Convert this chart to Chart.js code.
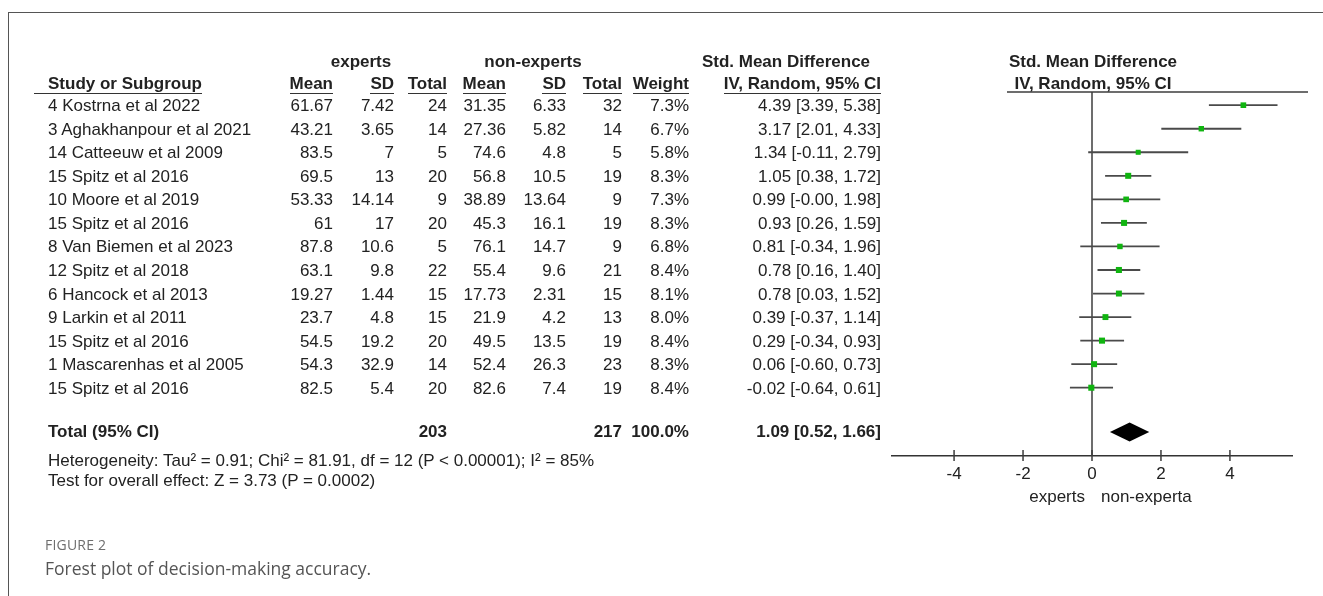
<!DOCTYPE html>
<html>
<head>
<meta charset="utf-8">
<title>Forest plot of decision-making accuracy</title>
<script src="https://cdn.jsdelivr.net/npm/chart.js@4.4.1/dist/chart.umd.min.js"></script>
<style>
  html, body { margin: 0; padding: 0; background: #fff; }
  #page { position: relative; width: 1323px; height: 596px; overflow: hidden; background: #fff;
          font-family: "Liberation Sans", Arial, sans-serif; color: #222; }
  #frame { position: absolute; left: 8px; top: 12px; width: 1330px; height: 600px;
           border-left: 1.6px solid #555; border-top: 1.6px solid #555; }
  #plot { position: absolute; left: 0; top: 0; }
  #overlay { position: absolute; left: 0; top: 0; width: 1323px; height: 596px; }
  .t { position: absolute; white-space: nowrap; font-size: 17px; line-height: 20px; }
  .b { font-weight: bold; }
  .u { line-height: 19px; border-bottom: 1.5px solid #333; }
  .fig { font-family: "Open Sans", "Noto Sans", sans-serif; font-size: 14px; color: #6e6e6e; letter-spacing: 0.2px; }
  .cap { font-family: "Open Sans", "Noto Sans", sans-serif; font-size: 17.5px; color: #555; }
</style>
</head>
<body>
<div id="page">
  <div id="frame"></div>
  <canvas id="plot" width="1323" height="596"></canvas>
  <div id="overlay"></div>
</div>
<script>
// ---- study data ----
const studies = [
  "4 Kostrna et al 2022", "3 Aghakhanpour et al 2021", "14 Catteeuw et al 2009",
  "15 Spitz et al 2016", "10 Moore et al 2019", "15 Spitz et al 2016",
  "8 Van Biemen et al 2023", "12 Spitz et al 2018", "6 Hancock et al 2013",
  "9 Larkin et al 2011", "15 Spitz et al 2016", "1 Mascarenhas et al 2005",
  "15 Spitz et al 2016"
];
const expertMean = [61.67, 43.21, 83.5, 69.5, 53.33, 61, 87.8, 63.1, 19.27, 23.7, 54.5, 54.3, 82.5];
const expertSD   = [7.42, 3.65, 7, 13, 14.14, 17, 10.6, 9.8, 1.44, 4.8, 19.2, 32.9, 5.4];
const expertN    = [24, 14, 5, 20, 9, 20, 5, 22, 15, 15, 20, 14, 20];
const novMean    = [31.35, 27.36, 74.6, 56.8, 38.89, 45.3, 76.1, 55.4, 17.73, 21.9, 49.5, 52.4, 82.6];
const novSD      = [6.33, 5.82, 4.8, 10.5, 13.64, 16.1, 14.7, 9.6, 2.31, 4.2, 13.5, 26.3, 7.4];
const novN       = [32, 14, 5, 19, 9, 19, 9, 21, 15, 13, 19, 23, 19];
const weight     = [7.3, 6.7, 5.8, 8.3, 7.3, 8.3, 6.8, 8.4, 8.1, 8.0, 8.4, 8.3, 8.4];
const smd        = [4.39, 3.17, 1.34, 1.05, 0.99, 0.93, 0.81, 0.78, 0.78, 0.39, 0.29, 0.06, -0.02];
const ciLow      = [3.39, 2.01, -0.11, 0.38, -0.00, 0.26, -0.34, 0.16, 0.03, -0.37, -0.34, -0.60, -0.64];
const ciHigh     = [5.38, 4.33, 2.79, 1.72, 1.98, 1.59, 1.96, 1.40, 1.52, 1.14, 0.93, 0.73, 0.61];

// ---- pooled result ----
const totalExpertN = 203;
const totalNovN = 217;
const totalWeight = 100.0;
const totalSmd = 1.09;
const totalLow = 0.52;
const totalHigh = 1.66;
const heterogeneityText = "Heterogeneity: Tau\u00B2 = 0.91; Chi\u00B2 = 81.91, df = 12 (P < 0.00001); I\u00B2 = 85%";
const overallText = "Test for overall effect: Z = 3.73 (P = 0.0002)";

// ---- axis ----
const xTicks = [-4, -2, 0, 2, 4];
const xMin = -5.8, xMax = 5.8;
const leftLabel = "experts";
const rightLabel = "non-experta";

// ---- layout ----
const W = 1323;
const totalRow = 13.88;            // vertical slot of the pooled row
const col = { study: 48, eMean: 333, eSD: 394, eN: 447, nMean: 506, nSD: 566, nN: 622, w: 689, ci: 881 };

function fmt2(v) {
  const neg = v < 0 || Object.is(v, -0);
  return (neg ? "-" : "") + Math.abs(v).toFixed(2);
}
function ciText(m, lo, hi) { return fmt2(m) + " [" + fmt2(lo) + ", " + fmt2(hi) + "]"; }

function strokeLine(ctx, x1, y1, x2, y2) {
  ctx.beginPath(); ctx.moveTo(x1, y1); ctx.lineTo(x2, y2); ctx.stroke();
}

const forestPlugin = {
  id: 'forest',
  beforeDatasetsDraw(chart) {
    const { ctx, chartArea, scales: { x, y } } = chart;
    ctx.save();
    ctx.lineCap = 'butt';
    // line of no effect
    const x0 = x.getPixelForValue(0);
    ctx.strokeStyle = '#3c3c3c';
    ctx.lineWidth = 1.5;
    strokeLine(ctx, x0, chartArea.top, x0, chartArea.bottom);
    // header rule above the plot
    strokeLine(ctx, 1007, chartArea.top, 1308, chartArea.top);
    // tick marks crossing the axis
    xTicks.forEach(v => {
      const px = x.getPixelForValue(v);
      strokeLine(ctx, px, chartArea.bottom - 6, px, chartArea.bottom + 5);
    });
    // confidence intervals
    ctx.strokeStyle = '#4a4a4a';
    ctx.lineWidth = 1.8;
    smd.forEach((v, i) => {
      const py = y.getPixelForValue(i);
      strokeLine(ctx, x.getPixelForValue(ciLow[i]), py, x.getPixelForValue(ciHigh[i]), py);
    });
    // pooled estimate diamond
    const py = y.getPixelForValue(totalRow);
    const h = 9.5;
    ctx.fillStyle = '#000';
    ctx.beginPath();
    ctx.moveTo(x.getPixelForValue(totalLow), py);
    ctx.lineTo(x.getPixelForValue(totalSmd), py - h);
    ctx.lineTo(x.getPixelForValue(totalHigh), py);
    ctx.lineTo(x.getPixelForValue(totalSmd), py + h);
    ctx.closePath();
    ctx.fill();
    ctx.restore();
  }
};

const chart = new Chart(document.getElementById('plot'), {
  type: 'scatter',
  data: {
    datasets: [{
      data: smd.map((v, i) => ({ x: v, y: i })),
      pointStyle: 'rect',
      pointRadius: weight.map(w => Math.sqrt(w) * 1.48),
      backgroundColor: '#10b410',
      borderWidth: 0
    }]
  },
  options: {
    responsive: false,
    animation: false,
    events: [],
    layout: { padding: { left: 892, right: 31, top: 92, bottom: 100 } },
    scales: {
      x: {
        type: 'linear', min: xMin, max: xMax,
        afterBuildTicks: axis => { axis.ticks = xTicks.map(v => ({ value: v })); },
        afterFit: scale => { scale.height = 40; },
        grid: { display: false, drawTicks: false },
        border: { display: true, color: '#333', width: 1.5 },
        ticks: { color: '#222', padding: 8, font: { family: 'Liberation Sans', size: 17 } }
      },
      y: { type: 'linear', reverse: true, min: -0.56, max: 14.9, display: false }
    },
    plugins: { legend: { display: false }, tooltip: { enabled: false } }
  },
  plugins: [forestPlugin]
});

// ---- table text, placed on the same rows as the plot ----
const overlay = document.getElementById('overlay');
function put(text, x, y, align, cls) {
  const el = document.createElement('div');
  el.className = 't' + (cls ? ' ' + cls : '');
  el.textContent = text;
  el.style.top = (y - 10) + 'px';
  if (align === 'right') el.style.right = (W - x) + 'px';
  else if (align === 'center') { el.style.left = x + 'px'; el.style.transform = 'translateX(-50%)'; }
  else el.style.left = x + 'px';
  overlay.appendChild(el);
  return el;
}

const ys = chart.scales.y;
const xs = chart.scales.x;
const x0px = xs.getPixelForValue(0);

// column group headings
const h1 = 62, h2 = 83.5;
put("experts", 361, h1, 'center', 'b');
put("non-experts", 533, h1, 'center', 'b');
put("Std. Mean Difference", 786, h1, 'center', 'b');
put("Std. Mean Difference", x0px + 1, h1, 'center', 'b');

const st = put("Study or Subgroup", col.study - 14, h2, 'left', 'b u');
st.style.paddingLeft = '14px';
put("Mean", col.eMean, h2, 'right', 'b u');
put("SD", col.eSD, h2, 'right', 'b u');
put("Total", col.eN, h2, 'right', 'b u');
put("Mean", col.nMean, h2, 'right', 'b u');
put("SD", col.nSD, h2, 'right', 'b u');
put("Total", col.nN, h2, 'right', 'b u');
put("Weight", col.w, h2, 'right', 'b u');
put("IV, Random, 95% CI", col.ci, h2, 'right', 'b u');
put("IV, Random, 95% CI", x0px + 1, h2, 'center', 'b');

studies.forEach((name, i) => {
  const y = ys.getPixelForValue(i) + 1;
  put(name, col.study, y, 'left');
  put(String(expertMean[i]), col.eMean, y, 'right');
  put(String(expertSD[i]), col.eSD, y, 'right');
  put(String(expertN[i]), col.eN, y, 'right');
  put(String(novMean[i]), col.nMean, y, 'right');
  put(String(novSD[i]), col.nSD, y, 'right');
  put(String(novN[i]), col.nN, y, 'right');
  put(weight[i].toFixed(1) + "%", col.w, y, 'right');
  put(ciText(smd[i], ciLow[i], ciHigh[i]), col.ci, y, 'right');
});

const ty = ys.getPixelForValue(totalRow);
put("Total (95% CI)", col.study, ty, 'left', 'b');
put(String(totalExpertN), col.eN, ty, 'right', 'b');
put(String(totalNovN), col.nN, ty, 'right', 'b');
put(totalWeight.toFixed(1) + "%", col.w, ty, 'right', 'b');
put(ciText(totalSmd, totalLow, totalHigh), col.ci, ty, 'right', 'b');
put(heterogeneityText, col.study, 461, 'left');
put(overallText, col.study, 481, 'left');

// axis side labels
const axisY = chart.chartArea.bottom;
put(leftLabel, x0px - 7, axisY + 41, 'right');
put(rightLabel, x0px + 9, axisY + 41, 'left');

// figure caption
put("FIGURE 2", 45, 545, 'left', 'fig');
put("Forest plot of decision-making accuracy.", 45, 568, 'left', 'cap');
</script>
</body>
</html>
